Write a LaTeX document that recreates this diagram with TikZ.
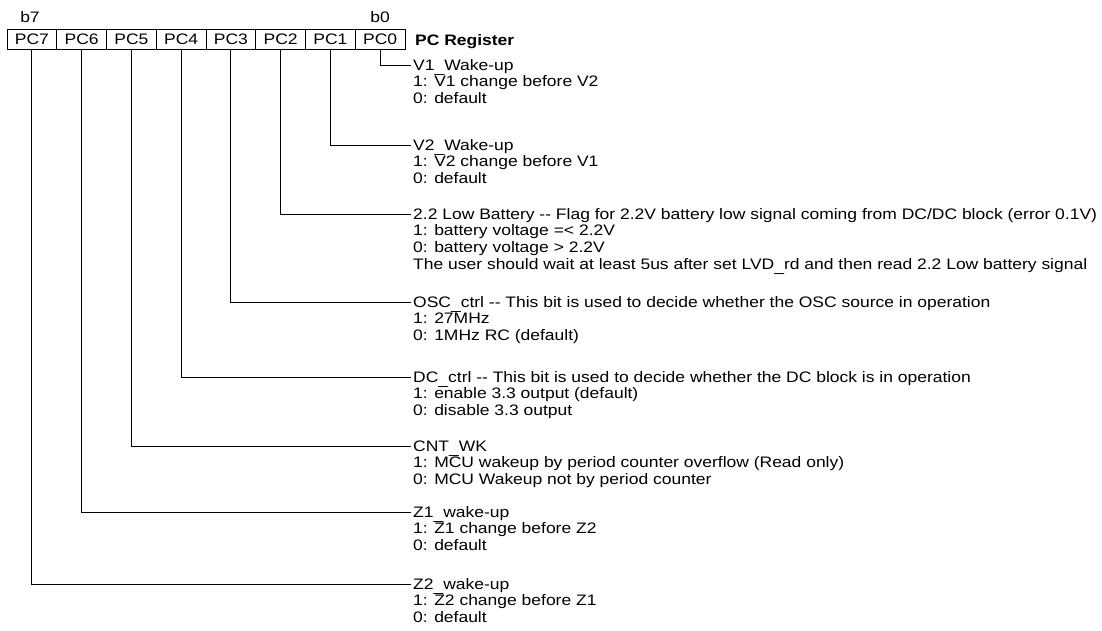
\documentclass[tikz,border=0pt]{standalone}
\usepackage{fontspec}
\setmainfont[FakeStretch=1.15]{Liberation Sans}
\newcommand\lowus{\raisebox{-0.12em}{\_}}
\begin{document}
\begin{tikzpicture}[x=1pt,y=-1pt,
  txt/.style={font=\fontsize{15.2}{16.7}\selectfont},
  regbox/.style={draw,line width=0.9pt,minimum width=49.75pt,minimum height=20pt,inner sep=0pt,txt},
  desc/.style={anchor=north west,inner sep=0pt,align=left,txt},
  conn/.style={line width=0.9pt}]
\useasboundingbox (0,0) rectangle (1102,630);
% register boxes
\foreach \i/\n in {0/7,1/6,2/5,3/4,4/3,5/2,6/1,7/0}{
  \node[regbox] (pc\n) at ({7+49.75*(\i+0.5)},39.2) {PC\n};
}
\node[txt,anchor=base] (b7) at (30,22.7) {b7};
\node[txt,anchor=base] (b0) at (380,22.7) {b0};
\node[txt,anchor=base west,inner sep=0pt,font=\fontsize{15.2}{16.7}\selectfont\bfseries] (reg) at (415,45) {PC Register};
% descriptions
\newcommand\entry[3]{%
  \coordinate (e#1) at (411,#2);
  \node[desc] (d#1) at (413,#2-9) {\rule{0pt}{14pt}#3};
  \draw[conn] (pc#1.south) |- (e#1);
}
\entry{0}{65}{V1\lowus Wake-up\\1: V1 change before V2\\0: default}
\entry{1}{145}{V2\lowus Wake-up\\1: V2 change before V1\\0: default}
\entry{2}{214}{2.2 Low Battery -{}- Flag for 2.2V battery low signal coming from DC/DC block (error 0.1V)\\1: battery voltage =< 2.2V\\0: battery voltage > 2.2V\\The user should wait at least 5us after set LVD\lowus rd and then read 2.2 Low battery signal}
\entry{3}{302}{OSC\lowus ctrl -{}- This bit is used to decide whether the OSC source in operation\\1: 27MHz\\0: 1MHz RC (default)}
\entry{4}{377}{DC\lowus ctrl -{}- This bit is used to decide whether the DC block is in operation\\1: enable 3.3 output (default)\\0: disable 3.3 output}
\entry{5}{446}{CNT\lowus WK\\1: MCU wakeup by period counter overflow (Read only)\\0: MCU Wakeup not by period counter}
\entry{6}{512}{Z1\lowus wake-up\\1: Z1 change before Z2\\0: default}
\entry{7}{584}{Z2\lowus wake-up\\1: Z2 change before Z1\\0: default}
\end{tikzpicture}
\end{document}
